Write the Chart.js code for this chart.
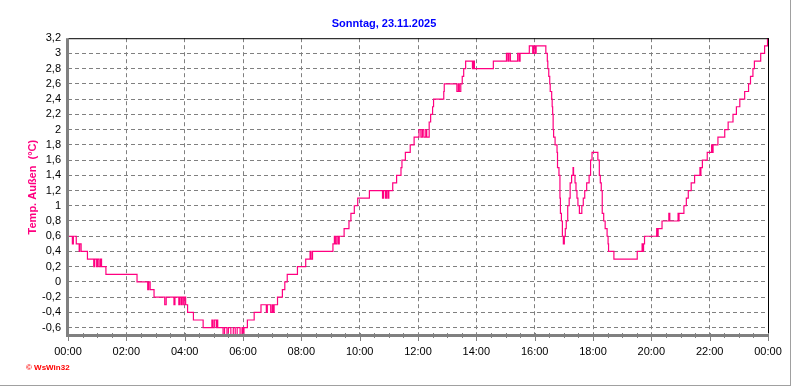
<!DOCTYPE html>
<html><head><meta charset="utf-8">
<script src="https://cdn.jsdelivr.net/npm/chart.js@4.4.0/dist/chart.umd.min.js"></script>
<style>html,body{margin:0;padding:0;background:#fff;overflow:hidden}canvas{display:block}</style>
</head><body>
<canvas id="c" width="792" height="387"></canvas>
<script>
const chartTitle = 'Sonntag, 23.11.2025';
const yAxisTitle = 'Temp. Außen  (°C)';
const watermark = '\u00A9 WsWin32';
const xTickMinutes = [0,120,240,360,480,600,720,840,960,1080,1200,1320,1440];
const xTickLabels = ['00:00','02:00','04:00','06:00','08:00','10:00','12:00','14:00','16:00','18:00','20:00','22:00','00:00'];
const yTicks = [-0.6,-0.4,-0.2,0,0.2,0.4,0.6,0.8,1,1.2,1.4,1.6,1.8,2,2.2,2.4,2.6,2.8,3,3.2];

// minutes since midnight
const minutes = [0,9,11,17,23,24,27,40,53,55,59,61,64,67,69,78,142,164,166,169,177,199,202,218,220,228,230,233,235,238,239,242,246,258,278,296,298,301,305,306,308,319,322,327,330,335,340,344,348,354,358,360,362,369,383,397,408,410,417,420,422,424,431,441,446,451,472,489,498,500,503,545,548,550,553,556,558,568,578,582,589,596,620,647,649,653,655,658,660,668,676,685,687,694,704,712,722,726,729,732,736,738,743,746,750,752,773,774,800,803,805,808,811,814,818,832,834,836,875,902,905,907,910,925,928,930,949,956,958,961,963,983,986,987,989,991,992,995,996,997,998,999,1002,1006,1007,1010,1012,1013,1015,1017,1019,1021,1023,1025,1028,1031,1033,1036,1039,1040,1043,1045,1047,1049,1052,1057,1060,1063,1067,1072,1075,1078,1090,1093,1095,1097,1099,1102,1105,1109,1111,1112,1123,1171,1181,1183,1184,1186,1211,1212,1214,1222,1236,1238,1255,1256,1257,1267,1272,1276,1282,1289,1300,1301,1302,1305,1315,1324,1325,1327,1337,1351,1358,1368,1375,1382,1392,1400,1404,1409,1412,1425,1433,1439,1440];
// temperature (°C)
const temps = [0.6,0.5,0.6,0.5,0.4,0.5,0.4,0.3,0.2,0.3,0.2,0.3,0.2,0.3,0.2,0.1,0.0,-0.1,0.0,-0.1,-0.2,-0.3,-0.2,-0.3,-0.2,-0.3,-0.2,-0.3,-0.2,-0.3,-0.2,-0.3,-0.4,-0.5,-0.6,-0.5,-0.6,-0.5,-0.6,-0.5,-0.6,-0.7,-0.6,-0.7,-0.6,-0.7,-0.6,-0.7,-0.6,-0.7,-0.6,-0.7,-0.6,-0.5,-0.4,-0.3,-0.4,-0.3,-0.4,-0.3,-0.4,-0.3,-0.2,-0.1,0.0,0.1,0.2,0.3,0.4,0.3,0.4,0.5,0.6,0.5,0.6,0.5,0.6,0.7,0.8,0.9,1.0,1.1,1.2,1.1,1.2,1.1,1.2,1.1,1.2,1.3,1.4,1.5,1.6,1.7,1.8,1.9,2.0,1.9,2.0,1.9,2.0,1.9,2.1,2.2,2.3,2.4,2.5,2.6,2.5,2.6,2.5,2.6,2.7,2.8,2.9,2.8,2.9,2.8,2.9,3.0,2.9,3.0,2.9,3.0,2.9,3.0,3.1,3.0,3.1,3.0,3.1,3.0,2.9,2.8,2.7,2.6,2.5,2.4,2.3,2.2,2.0,1.9,1.8,1.7,1.5,1.4,1.1,0.9,0.8,0.6,0.5,0.6,0.7,0.8,1.0,1.1,1.3,1.4,1.5,1.4,1.3,1.2,1.1,1.0,0.9,1.0,1.1,1.2,1.3,1.4,1.6,1.7,1.6,1.4,1.3,1.2,0.9,0.8,0.7,0.6,0.5,0.4,0.3,0.4,0.5,0.4,0.5,0.6,0.7,0.6,0.7,0.8,0.9,0.8,0.9,0.8,0.9,1.0,1.1,1.2,1.3,1.4,1.5,1.4,1.5,1.6,1.7,1.8,1.7,1.8,1.9,2.0,2.1,2.2,2.3,2.4,2.5,2.6,2.7,2.8,2.9,3.0,3.1,3.2,3.2];

const FONT = "'Liberation Sans', Arial, sans-serif";
Chart.defaults.font.family = FONT;

const fmtY = v => {
  const r = Math.round(v * 10) / 10;
  let s = r.toFixed(1);
  if (s.endsWith('.0')) s = s.slice(0, -2);
  if (s === '-0') s = '0';
  return s.replace('.', ',');
};

const framePlugin = {
  id: 'frame',
  afterDraw(chart) {
    const ctx = chart.ctx;
    const a = chart.chartArea;
    const xs = chart.scales.x;
    ctx.save();
    // black top & right border
    ctx.fillStyle = '#000000';
    ctx.fillRect(a.left, a.top, a.right - a.left + 1, 1);
    ctx.fillRect(a.right, a.top, 1, a.bottom - a.top);
    // gray left & bottom axis
    ctx.fillStyle = '#808080';
    ctx.fillRect(a.left - 2, a.top, 3, a.bottom - a.top + 1);
    ctx.fillRect(a.left - 2, a.bottom - 2, a.right - a.left + 3, 3);
    // x tick marks (major every 2h, minor every 30 min)
    for (let m = 0; m <= 1440; m += 30) {
      const px = Math.round(xs.getPixelForValue(m));
      const major = m % 120 === 0;
      ctx.fillRect(px, a.bottom - 3, 1, major ? 8 : 5);
    }
    // outer frame
    ctx.fillStyle = '#a0a0a0';
    ctx.fillRect(790, 0, 1, 386);
    ctx.fillRect(0, 385, 791, 1);
    // watermark
    ctx.fillStyle = '#ff0000';
    ctx.font = 'bold 8px ' + FONT;
    ctx.textBaseline = 'alphabetic';
    ctx.textAlign = 'left';
    ctx.fillText(watermark, 26, 370);
    ctx.restore();
  }
};

new Chart(document.getElementById('c'), {
  type: 'line',
  data: {
    datasets: [{
      data: minutes.map((m, i) => ({ x: m, y: temps[i] })),
      borderColor: '#ff0080',
      borderWidth: 1.2,
      pointRadius: 0,
      stepped: true,
      fill: false,
      tension: 0
    }]
  },
  options: {
    responsive: false,
    animation: false,
    devicePixelRatio: 1,
    layout: { padding: { left: 0, right: 24, top: 0, bottom: 0 } },
    plugins: {
      legend: { display: false },
      tooltip: { enabled: false },
      title: {
        display: true,
        text: chartTitle,
        color: '#0000ff',
        font: { size: 11, weight: 'bold', family: FONT },
        padding: { top: 17, bottom: 8 }
      }
    },
    scales: {
      x: {
        type: 'linear',
        min: 0,
        max: 1440,
        afterBuildTicks: s => { s.ticks = xTickMinutes.map(v => ({ value: v })); },
        afterFit: s => { s.height = 51; },
        ticks: {
          autoSkip: false,
          maxRotation: 0,
          padding: 9,
          color: '#000000',
          font: { size: 11, family: FONT },
          callback: v => xTickLabels[xTickMinutes.indexOf(v)]
        },
        grid: {
          drawTicks: false,
          lineWidth: 1,
          color: c => (c.tick && (c.tick.value === 0 || c.tick.value === 1440)) ? 'rgba(0,0,0,0)' : '#808080'
        },
        border: { display: false, dash: [4, 3] }
      },
      y: {
        type: 'linear',
        min: -0.71,
        max: 3.2,
        afterBuildTicks: s => { s.ticks = yTicks.map(v => ({ value: v })); },
        afterFit: s => { s.width = 68; },
        ticks: {
          autoSkip: false,
          padding: 7,
          color: '#000000',
          font: { size: 11, family: FONT },
          callback: v => fmtY(v)
        },
        grid: {
          drawTicks: false,
          lineWidth: 1,
          color: c => (c.tick && c.tick.value === 3.2) ? 'rgba(0,0,0,0)' : '#808080'
        },
        border: { display: false, dash: [4, 3] },
        title: {
          display: true,
          text: yAxisTitle,
          color: '#ff0080',
          font: { size: 11, weight: 'bold', family: FONT },
          padding: { top: 26, bottom: 0 }
        }
      }
    }
  },
  plugins: [framePlugin]
});
</script>
</body></html>
